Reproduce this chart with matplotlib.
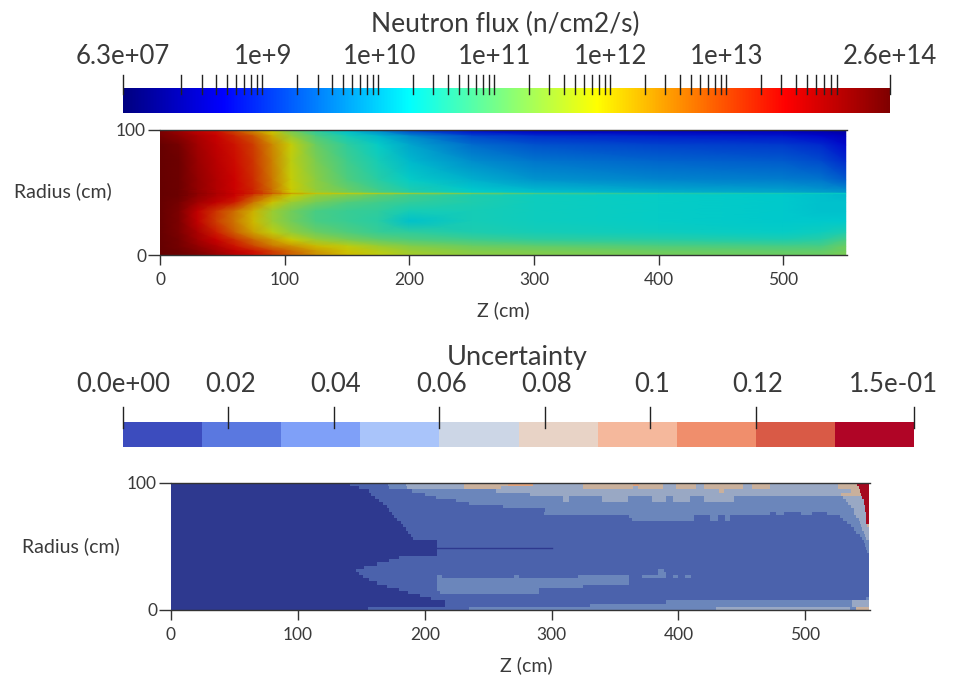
import numpy as np
import matplotlib
matplotlib.use('Agg')
import matplotlib.pyplot as plt
from matplotlib.cm import ScalarMappable
from matplotlib.colors import LinearSegmentedColormap, ListedColormap, LogNorm, BoundaryNorm

plt.rcParams['font.family'] = ['Lato', 'DejaVu Sans']

W, H = 958, 675

# flux colour bar
flux_min, flux_max = 6.3e7, 2.6e14
flux_labelled = [1e9, 1e10, 1e11, 1e12, 1e13]
flux_labels = ['1e+9', '1e+10', '1e+11', '1e+12', '1e+13']

# flux map, read as position along the colour bar (0-1)
flux_z = [0, 15, 30, 45, 60, 75, 90, 105, 125, 150, 175, 200, 250, 300, 400, 500, 530, 550]
flux_r = [100, 99, 95, 88, 75, 60, 52, 50, 49, 48, 47, 42, 35, 27, 18, 12, 7, 3, 0]
flux_pos = [
    [.95, .90, .85, .82, .74, .66, .58, .48, .40, .32, .26, .18, .11, .09, .08, .08, .07, .06],
    [.97, .93, .88, .85, .78, .70, .62, .52, .43, .36, .30, .22, .15, .12, .11, .11, .09, .08],
    [.98, .95, .91, .87, .82, .76, .66, .56, .47, .40, .35, .30, .22, .19, .17, .16, .14, .11],
    [1.0, .98, .92, .88, .84, .79, .70, .61, .50, .43, .38, .33, .26, .23, .21, .20, .18, .14],
    [1.0, .99, .93, .89, .85, .80, .71, .60, .52, .45, .40, .35, .30, .27, .25, .24, .22, .18],
    [1.0, .99, .94, .90, .86, .81, .72, .61, .54, .47, .42, .38, .34, .31, .29, .28, .27, .24],
    [1.0, .99, .94, .90, .86, .82, .73, .62, .55, .50, .45, .41, .37, .35, .33, .32, .31, .30],
    [1.0, .99, .94, .90, .86, .82, .73, .62, .56, .51, .46, .42, .38, .36, .34, .33, .32, .31],
    [1.0, .99, .95, .91, .87, .83, .76, .68, .63, .61, .59, .57, .52, .47, .42, .40, .39, .38],
    [1.0, .99, .94, .90, .86, .79, .70, .62, .56, .53, .49, .46, .42, .40, .38, .37, .36, .35],
    [1.0, .99, .94, .90, .86, .78, .69, .61, .55, .52, .48, .45, .41, .39, .38, .37, .36, .35],
    [1.0, .98, .92, .88, .83, .72, .63, .56, .51, .47, .45, .43, .41, .39, .38, .37, .36, .36],
    [1.0, .97, .88, .80, .73, .65, .56, .51, .46, .44, .43, .40, .40, .39, .38, .37, .36, .36],
    [1.0, .97, .88, .79, .72, .64, .56, .51, .46, .44, .42, .36, .40, .39, .38, .37, .37, .37],
    [1.0, .97, .91, .83, .75, .67, .60, .55, .50, .47, .44, .43, .41, .40, .39, .38, .39, .41],
    [1.0, .98, .92, .87, .81, .74, .68, .62, .56, .52, .49, .47, .45, .43, .42, .41, .42, .46],
    [1.0, .98, .94, .90, .84, .78, .72, .69, .64, .60, .56, .53, .50, .49, .47, .46, .46, .50],
    [1.0, .99, .96, .92, .88, .84, .79, .74, .68, .63, .59, .56, .53, .52, .50, .49, .49, .51],
    [1.0, .99, .97, .93, .89, .85, .80, .75, .69, .64, .60, .57, .54, .53, .51, .50, .50, .52],
]

# uncertainty colour bar
unc_max = 0.15
unc_bins = 10
unc_ticks = [0, 0.02, 0.04, 0.06, 0.08, 0.1, 0.12, 0.15]
unc_labels = ['0.0e+00', '0.02', '0.04', '0.06', '0.08', '0.1', '0.12', '1.5e-01']
unc_bar_colors = ['#3c4cbe', '#5a78e0', '#7fa0f8', '#a9c4fa', '#ccd6e6',
                  '#e8d3c6', '#f5b89c', '#f08e6c', '#d95a46', '#b00526']
unc_map_colors = ['#2e398f', '#4b62ac', '#6b86bb', '#99a8c4', '#c9b09c',
                  '#e0a27c', '#d08060', '#d86a50', '#c04a35', '#a50a20']

# uncertainty map: each row 2.5 cm tall, top to bottom, as (bin, z where it ends)
unc_rows = [
    [(0, 141), (1, 171), (2, 185), (3, 231), (4, 266), (5, 285), (3, 325), (4, 364), (5, 369), (4, 388), (3, 398), (4, 414), (3, 420), (4, 451), (3, 458), (4, 472), (3, 526), (4, 541), (9, 550)],
    [(0, 148), (1, 172), (2, 186), (3, 231), (4, 260), (3, 325), (4, 364), (3, 368), (4, 388), (3, 398), (4, 414), (3, 420), (4, 451), (3, 458), (4, 472), (3, 526), (4, 542), (9, 550)],
    [(0, 156), (1, 190), (2, 256), (3, 432), (4, 436), (3, 536), (4, 543), (9, 550)],
    [(0, 158), (1, 200), (2, 283), (3, 528), (4, 544), (9, 550)],
    [(0, 161), (1, 209), (2, 309), (3, 314), (2, 340), (3, 360), (2, 379), (3, 390), (2, 396), (3, 409), (2, 420), (3, 444), (2, 530), (3, 545), (9, 550)],
    [(0, 164), (1, 225), (2, 309), (3, 314), (2, 340), (3, 360), (2, 379), (3, 390), (2, 396), (3, 409), (2, 420), (3, 444), (2, 532), (3, 546), (9, 550)],
    [(0, 167), (1, 235), (2, 534), (3, 546), (9, 550)],
    [(0, 170), (1, 262), (2, 536), (3, 547), (9, 550)],
    [(0, 172), (1, 295), (2, 538), (3, 547), (9, 550)],
    [(0, 174), (1, 294), (2, 472), (1, 477), (2, 483), (1, 497), (2, 505), (1, 517), (2, 538), (3, 548), (9, 550)],
    [(0, 176), (1, 361), (2, 412), (1, 425), (2, 431), (1, 437), (2, 441), (1, 527), (2, 540), (3, 548), (9, 550)],
    [(0, 178), (1, 363), (2, 412), (1, 425), (2, 431), (1, 437), (2, 441), (1, 530), (2, 542), (3, 548), (9, 550)],
    [(0, 181), (1, 533), (2, 543), (3, 548), (9, 550)],
    [(0, 183), (1, 536), (2, 544), (3, 549), (4, 550)],
    [(0, 185), (1, 538), (2, 545), (3, 550)],
    [(0, 187), (1, 540), (2, 546), (3, 550)],
    [(0, 189), (1, 543), (2, 547), (3, 550)],
    [(0, 191), (1, 545), (2, 548), (3, 550)],
    [(0, 210), (1, 546), (2, 550)],
    [(0, 210), (1, 547), (2, 550)],
    [(0, 210), (1, 548), (2, 550)],
    [(0, 210), (1, 549), (2, 550)],
    [(0, 210), (1, 550)],
    [(0, 180), (1, 550)],
    [(0, 172), (1, 550)],
    [(0, 162), (1, 550)],
    [(0, 152), (1, 550)],
    [(0, 146), (1, 384), (2, 389), (1, 550)],
    [(0, 148), (1, 384), (2, 390), (1, 550)],
    [(0, 151), (1, 210), (2, 214), (1, 270), (2, 274), (1, 321), (2, 361), (1, 371), (2, 390), (1, 396), (2, 400), (1, 405), (2, 410), (1, 550)],
    [(0, 156), (1, 210), (2, 361), (1, 550)],
    [(0, 162), (1, 210), (2, 361), (1, 550)],
    [(0, 170), (1, 210), (2, 325), (1, 550)],
    [(0, 180), (1, 210), (2, 290), (1, 550)],
    [(0, 187), (1, 212), (2, 290), (1, 550)],
    [(0, 196), (1, 550)],
    [(0, 205), (1, 548), (2, 550)],
    [(0, 216), (1, 390), (2, 537), (3, 550)],
    [(0, 216), (1, 330), (2, 537), (3, 550)],
    [(0, 155), (1, 235), (2, 430), (3, 535), (2, 540), (4, 550)],
]
# thin dark streak behind the tip of the low-uncertainty zone
streak_z = [210, 300]
streak_r = [48.7, 48.7]

z_ticks = [0, 100, 200, 300, 400, 500]
r_ticks = [0, 100]
text_color = '#3a3a3a'


def px_axes(fig, left, top, right, bottom):
    return fig.add_axes([left / W, 1 - bottom / H, (right - left) / W, (bottom - top) / H])


def style_map(ax):
    ax.set_xlim(0, 551)
    ax.set_ylim(0, 100)
    ax.set_xticks(z_ticks)
    ax.set_yticks(r_ticks)
    ax.tick_params(axis='x', length=7, width=1, color='#333333', labelcolor=text_color, labelsize=12.5, pad=5)
    ax.tick_params(axis='y', length=9, width=1, color='#333333', labelcolor=text_color, labelsize=12.5, pad=1)
    for side in ['left', 'right']:
        ax.spines[side].set_visible(False)
    for side in ['top', 'bottom']:
        ax.spines[side].set_color('#333333')
        ax.spines[side].set_linewidth(1)


def bar_tick(cax, value, low, high):
    cax.plot([value, value], [low, high], color='#222222', lw=1, clip_on=False,
             transform=cax.get_xaxis_transform())


fig = plt.figure(figsize=(W / 100, H / 100), dpi=100)
fig.patch.set_facecolor('white')

# ---- neutron flux ----
stops = [(0, (0, 0, .5)), (.13, (0, 0, 1)), (.373, (0, 1, 1)), (.618, (1, 1, 0)), (.864, (1, 0, 0)), (1, (.5, 0, 0))]
flux_cmap = LinearSegmentedColormap.from_list('flux', stops, N=512)
# the map is lit, so it looks darker than its colour bar
lit = [(p, tuple(0.8 * np.array(c))) for p, c in stops]
flux_cmap_lit = LinearSegmentedColormap.from_list('flux_lit', lit, N=512)
log_lo, log_hi = np.log10(flux_min), np.log10(flux_max)
flux = 10 ** (log_lo + np.array(flux_pos) * (log_hi - log_lo))
flux_norm = LogNorm(flux_min, flux_max)

ax = px_axes(fig, 160, 130, 847, 255)
ax.pcolormesh(flux_z, flux_r, np.log10(flux), shading='gouraud', cmap=flux_cmap_lit, vmin=log_lo, vmax=log_hi, rasterized=True)
style_map(ax)

cax = px_axes(fig, 123, 88, 890, 113)
cb = fig.colorbar(ScalarMappable(norm=flux_norm, cmap=flux_cmap), cax=cax, orientation='horizontal')
cb.outline.set_visible(False)
cb.set_ticks([])
cb.minorticks_off()
for decade in [8, 9, 10, 11, 12, 13]:
    for m in range(1, 10):
        if decade == 8 and m == 1:
            continue
        bar_tick(cax, m * 10.0 ** decade, 0.76, 1.52)
bar_tick(cax, flux_min, 0.76, 1.52)
bar_tick(cax, flux_max, 0.76, 1.52)
cax.set_xlim(flux_min, flux_max)
tr = cax.get_xaxis_transform()
cax.annotate('6.3e+07', (flux_min, 1), xycoords=tr, xytext=(0, 32), textcoords='offset pixels',
             ha='center', va='center', fontsize=18.5, color=text_color)
for v, s in zip(flux_labelled, flux_labels):
    cax.annotate(s, (v, 1), xycoords=tr, xytext=(1, 32), textcoords='offset pixels',
                 ha='center', va='center', fontsize=18.5, color=text_color)
cax.annotate('2.6e+14', (flux_max, 1), xycoords=tr, xytext=(0, 32), textcoords='offset pixels',
             ha='center', va='center', fontsize=18.5, color=text_color)

# ---- uncertainty ----
unc_edges = np.linspace(0, unc_max, unc_bins + 1)
unc_norm = BoundaryNorm(unc_edges, unc_bins)
unc_grid = np.zeros((len(unc_rows), 550))
for i, row in enumerate(unc_rows):
    start = 0
    for b, end in row:
        unc_grid[i, start:end] = (unc_edges[b] + unc_edges[b + 1]) / 2
        start = end

ax2 = px_axes(fig, 171, 483, 870, 610)
ax2.pcolormesh(np.arange(551), np.arange(100, -2.5, -2.5), unc_grid,
               cmap=ListedColormap(unc_map_colors), norm=unc_norm, rasterized=True)
ax2.plot(streak_z, streak_r, color=unc_map_colors[0], lw=1)
style_map(ax2)

cax2 = px_axes(fig, 123, 422, 914, 447)
cb2 = fig.colorbar(ScalarMappable(norm=unc_norm, cmap=ListedColormap(unc_bar_colors)), cax=cax2,
                   orientation='horizontal', spacing='proportional')
cb2.outline.set_visible(False)
cb2.set_ticks([])
cb2.minorticks_off()
cax2.set_xlim(0, unc_max)
tr2 = cax2.get_xaxis_transform()
for v, s in zip(unc_ticks, unc_labels):
    bar_tick(cax2, v, 0.76, 1.6)
    dx = 0
    if v == unc_max:
        dx = -21
    elif v > 0:
        dx = 2
    cax2.annotate(s, (v, 1), xycoords=tr2, xytext=(dx, 37), textcoords='offset pixels',
                  ha='center', va='center', fontsize=18.5, color=text_color)


# ---- titles and axis labels ----
def label(x, y, s, size):
    fig.text(x / W, 1 - y / H, s, ha='center', va='center', fontsize=size, color=text_color)


label(505, 24, 'Neutron flux (n/cm2/s)', 19)
label(517, 357, 'Uncertainty', 19.5)
label(63, 191, 'Radius (cm)', 14)
label(71, 546, 'Radius (cm)', 14)
label(503, 310, 'Z (cm)', 14)
label(526, 665, 'Z (cm)', 14)

fig.savefig('out.png', dpi=100)
